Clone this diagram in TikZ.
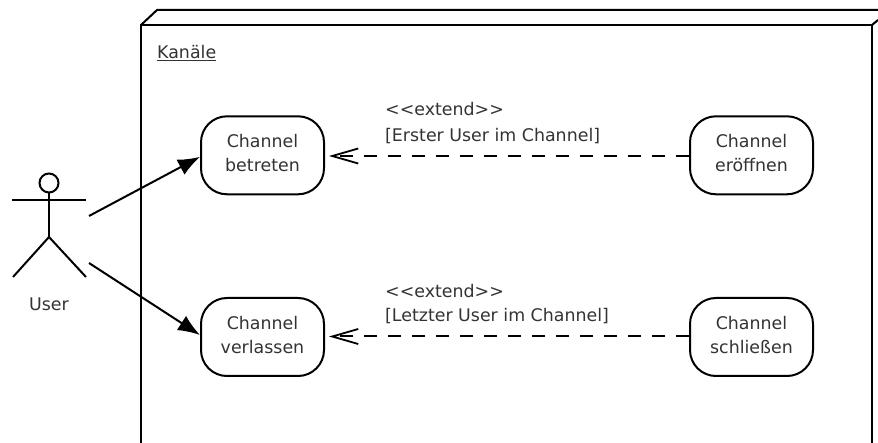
\documentclass[tikz,border=0pt]{standalone}
\usepackage{fontspec}
\setmainfont{DejaVu Sans}
\usetikzlibrary{arrows.meta}
\definecolor{txt}{gray}{0.2}
\newcommand{\ucl}[2]{#1\\#2\rule[-5pt]{0pt}{5pt}}
\tikzset{
  x=1pt,y=-1pt,
  line/.style={line width=2pt,black},
  usecase/.style={draw=black,line width=2pt,rounded corners=26pt,minimum width=123pt,minimum height=78pt,align=center,inner sep=0pt,font=\fontsize{17.4}{24}\selectfont,text=txt},
  label/.style={anchor=west,align=left,inner sep=0pt,font=\fontsize{17.4}{24}\selectfont,text=txt},
  assoc/.style={line,-{Latex[length=22pt,width=17pt]}},
  ext/.style={line,dash pattern=on 13pt off 11pt,-{Straight Barb[length=26pt,width=15pt,line width=1.8pt]}},
}
\begin{document}
\begin{tikzpicture}
\useasboundingbox (0,0) rectangle (878,443);
% package frame
\draw[line] (141,443) -- (141,25) -- (872,25) -- (872,443);
\draw[line] (141,25) -- (157,10) -- (878,10);
\draw[line] (872,25) -- (878,20);
\node[label,anchor=base west] (pkg) at (157,59) {\underline{Kanäle}};
% actor
\coordinate (actorNeck) at (49,193);
\coordinate (actorHip) at (49,237);
\draw[line] (49,183) circle (9.5);
\draw[line] (actorNeck) -- (actorHip);
\draw[line] (12,200) -- (86,200);
\draw[line] (13,277) -- (actorHip) -- (86,277);
\node[label,anchor=base] (user) at (49,311) {User};
\coordinate (userA) at (89,216);
\coordinate (userB) at (89,263);
% use cases
\node[usecase] (betreten) at (262.5,155.3) {\ucl{Channel}{betreten}};
\node[usecase] (verlassen) at (262.5,337) {\ucl{Channel}{verlassen}};
\node[usecase] (eroeffnen) at (751.5,155.3) {\ucl{Channel}{eröffnen}};
\node[usecase] (schliessen) at (751.5,337) {\ucl{Channel}{schließen}};
% connectors
\draw[assoc] (userA) -- ([yshift=-1.5pt]betreten.west);
\draw[assoc] (userB) -- ([yshift=2pt]verlassen.west);
\draw[ext] ([yshift=-0.7pt]eroeffnen.west) -- ([xshift=4pt,yshift=-0.7pt]betreten.east);
\draw[ext] ([yshift=0.5pt]schliessen.west) -- ([xshift=4pt,yshift=0.5pt]verlassen.east);
% labels
\node[label,anchor=base west] (l1) at (385,116) {<{}<extend>{}>};
\node[label,anchor=base west] (l2) at (385,142) {[Erster User im Channel]};
\node[label,anchor=base west] (l3) at (385,298) {<{}<extend>{}>};
\node[label,anchor=base west] (l4) at (385,322) {[Letzter User im Channel]};
\end{tikzpicture}
\end{document}
